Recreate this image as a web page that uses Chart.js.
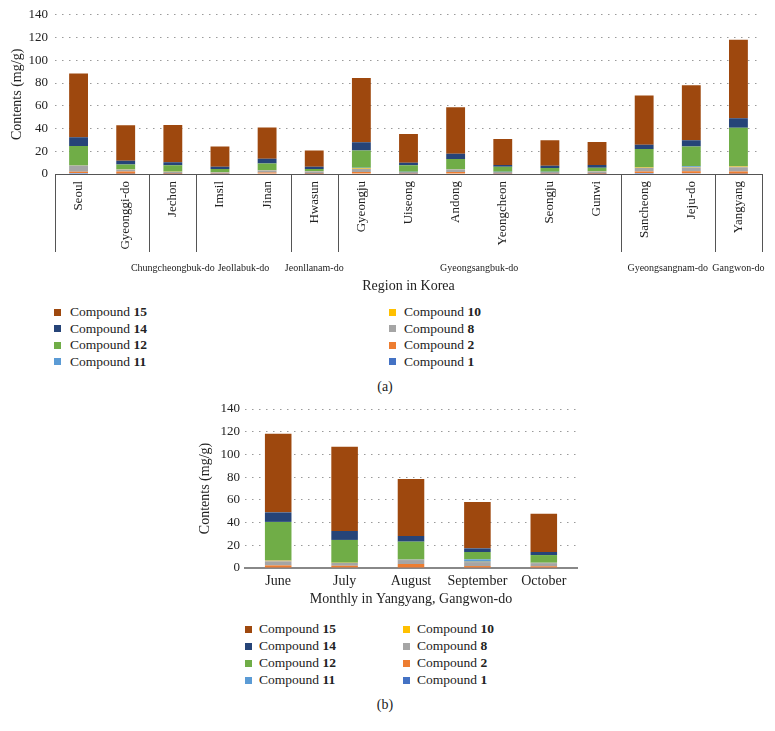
<!DOCTYPE html>
<html>
<head>
<meta charset="utf-8">
<script src="https://cdn.jsdelivr.net/npm/chart.js@4.4.0/dist/chart.umd.min.js"></script>
<style>
    body { margin: 0; background: #fff; width: 775px; height: 731px; position: relative; overflow: hidden;
           font-family: 'Liberation Serif', serif; color: #222; }
    canvas { position: absolute; }
    .leg { position: absolute; font-size: 13.5px; line-height: 16px; white-space: nowrap; }
    .mark { position: absolute; width: 7px; height: 7px; }
    .cap { position: absolute; width: 40px; text-align: center; font-size: 14px; line-height: 16px; }
</style>
</head>
<body>
<canvas id="chartA" width="775" height="296" style="left:0;top:0"></canvas>
<canvas id="chartB" width="410" height="215" style="left:180px;top:395px"></canvas>
<div id="legends"></div>
<div class="cap" style="left:365px;top:379px">(a)</div>
<div class="cap" style="left:365px;top:697px">(b)</div>
<script>
// (a) regions in Korea
const regions = ['Seoul', 'Gyeonggi-do', 'Jechon', 'Imsil', 'Jinan', 'Hwasun', 'Gyeongju', 'Uiseong',
    'Andong', 'Yeongcheon', 'Seongju', 'Gunwi', 'Sancheong', 'Jeju-do', 'Yangyang']
const regionGroups = ['', 'Chungcheongbuk-do', 'Jeollabuk-do', 'Jeonllanam-do', 'Gyeongsangbuk-do',
    'Gyeongsangnam-do', 'Gangwon-do']
const regionGroupSizes = [2, 1, 2, 1, 6, 2, 1]

const compounds = ['1', '2', '8', '10', '11', '12', '14', '15']
const compoundColors = ['#4472C4', '#ED7D31', '#A5A5A5', '#FFC000', '#5B9BD5', '#70AD47', '#264478', '#9E480E']
const legendOrder = ['15', '14', '12', '11', '10', '8', '2', '1']

const regionC1 = [0.8, 0.3, 0.2, 0.2, 0.5, 0.3, 0.5, 0.2, 0.4, 0.2, 0.2, 0.2, 0.8, 0.6, 0.3]
const regionC2 = [1.2, 2.0, 0.6, 0.4, 0.8, 0.5, 1.2, 0.5, 1.3, 0.5, 0.5, 0.6, 1.5, 1.8, 2.0]
const regionC8 = [5.0, 1.5, 0.9, 0.8, 1.8, 1.4, 3.0, 1.0, 2.0, 1.0, 1.0, 1.4, 3.0, 3.4, 3.6]
const regionC10 = [0.3, 0.2, 0.2, 0.1, 0.2, 0.2, 0.5, 0.1, 0.3, 0.1, 0.1, 0.2, 0.4, 0.3, 0.6]
const regionC11 = [0.3, 0.2, 0.2, 0.2, 0.2, 0.2, 0.2, 0.2, 0.3, 0.2, 0.2, 0.2, 0.3, 0.8, 0.4]
const regionC12 = [17.0, 4.2, 5.7, 2.6, 5.7, 1.7, 15.3, 5.8, 8.9, 4.3, 3.2, 2.8, 15.9, 17.3, 33.7]
const regionC14 = [7.7, 3.2, 2.6, 2.0, 4.3, 2.0, 7.2, 2.0, 4.7, 1.7, 2.0, 2.6, 3.8, 5.4, 8.4]
const regionC15 = [56.0, 31.3, 32.8, 17.9, 27.4, 14.4, 56.5, 25.3, 40.9, 22.8, 22.4, 20.2, 43.4, 48.5, 69.1]

// (b) monthly in Yangyang
const months = ['June', 'July', 'August', 'September', 'October']
const monthC1 = [0.3, 0.5, 0.3, 0.3, 0.3]
const monthC2 = [2.0, 1.5, 3.2, 1.4, 1.2]
const monthC8 = [3.6, 2.4, 3.5, 3.5, 2.8]
const monthC10 = [0.6, 0.2, 0.2, 0.3, 0.2]
const monthC11 = [0.4, 0.1, 0.4, 2.1, 0.2]
const monthC12 = [33.7, 20.0, 15.6, 6.5, 6.7]
const monthC14 = [8.4, 7.9, 5.0, 3.2, 2.7]
const monthC15 = [69.1, 74.2, 50.2, 40.8, 33.7]

const yMax = 140
const yStep = 20

const serif = "'Liberation Serif', serif"
const textColor = '#222'

function makeDatasets(rows) {
    return compounds.map((c, i) => ({
        label: 'Compound ' + c,
        data: rows[i],
        backgroundColor: compoundColors[i],
        barPercentage: 0.4,
        categoryPercentage: 1
    }))
}

function yScale(width, titlePad, labelPad) {
    return {
        stacked: true,
        min: 0,
        max: yMax,
        ticks: { stepSize: yStep, padding: labelPad, color: textColor, font: { family: serif, size: 13 } },
        grid: { drawTicks: false, color: '#9a9a9a', lineWidth: 1 },
        border: { display: false, dash: [1.5, 5.5] },
        title: {
            display: true, text: 'Contents (mg/g)', color: textColor,
            font: { family: serif, size: 14 }, padding: { top: titlePad, bottom: 0 }
        },
        afterFit: s => { s.width = width }
    }
}

// separators and province names under the region axis
const groupPlugin = {
    id: 'regionGroups',
    afterDraw(chart) {
        const { ctx, chartArea, scales: { x } } = chart
        const half = (x.getPixelForValue(1) - x.getPixelForValue(0)) / 2
        const y0 = chartArea.bottom
        ctx.save()
        ctx.strokeStyle = '#555'
        ctx.lineWidth = 1
        ctx.fillStyle = textColor
        ctx.font = '10px ' + serif
        ctx.textAlign = 'center'
        ctx.textBaseline = 'middle'
        let idx = 0
        const edges = [x.getPixelForValue(0) - half]
        regionGroups.forEach((name, g) => {
            const start = x.getPixelForValue(idx) - half
            idx += regionGroupSizes[g]
            const end = x.getPixelForValue(idx - 1) + half
            edges.push(end)
            if (name) ctx.fillText(name, (start + end) / 2, y0 + 94)
        })
        edges.forEach(px => {
            const lx = Math.round(px) + 0.5
            ctx.beginPath()
            ctx.moveTo(lx, y0)
            ctx.lineTo(lx, y0 + 78)
            ctx.stroke()
        })
        ctx.restore()
    }
}

new Chart(document.getElementById('chartA'), {
    type: 'bar',
    data: {
        labels: regions,
        datasets: makeDatasets([regionC1, regionC2, regionC8, regionC10, regionC11, regionC12, regionC14, regionC15])
    },
    options: {
        responsive: false,
        animation: false,
        layout: { padding: { top: 12, right: 13, left: 0, bottom: 0 } },
        plugins: { legend: { display: false }, tooltip: { enabled: false } },
        scales: {
            x: {
                stacked: true,
                grid: { display: false, drawTicks: false },
                border: { display: true, color: '#555', width: 1 },
                ticks: {
                    autoSkip: false, minRotation: 90, maxRotation: 90, padding: 7,
                    color: textColor, font: { family: serif, size: 13 }
                },
                title: {
                    display: true, text: 'Region in Korea', color: textColor,
                    font: { family: serif, size: 14 }, padding: { top: 0, bottom: 1 }
                },
                afterFit: s => { s.height = 122 }
            },
            y: yScale(55, 9, 7)
        }
    },
    plugins: [groupPlugin]
})

new Chart(document.getElementById('chartB'), {
    type: 'bar',
    data: {
        labels: months,
        datasets: makeDatasets([monthC1, monthC2, monthC8, monthC10, monthC11, monthC12, monthC14, monthC15])
    },
    options: {
        responsive: false,
        animation: false,
        layout: { padding: { top: 14, right: 13, left: 0, bottom: 0 } },
        plugins: { legend: { display: false }, tooltip: { enabled: false } },
        scales: {
            x: {
                stacked: true,
                grid: { display: false, drawTicks: false },
                border: { display: true, color: '#888', width: 2 },
                ticks: { maxRotation: 0, padding: 5, color: textColor, font: { family: serif, size: 14 } },
                title: {
                    display: true, text: 'Monthly in Yangyang, Gangwon-do', color: textColor,
                    font: { family: serif, size: 14 }, padding: { top: 0, bottom: 2 }
                },
                afterFit: s => { s.height = 42 }
            },
            y: yScale(65, 17, 5)
        }
    }
})

// two-column legends, column-major like the original
function buildLegend(cols, top, step) {
    const box = document.getElementById('legends')
    legendOrder.forEach((c, k) => {
        const col = cols[Math.floor(k / 4)]
        const cy = top + (k % 4) * step
        const mark = document.createElement('div')
        mark.className = 'mark'
        mark.style.left = (col[0] - 3.5) + 'px'
        mark.style.top = (cy - 3.5) + 'px'
        mark.style.background = compoundColors[compounds.indexOf(c)]
        const txt = document.createElement('div')
        txt.className = 'leg'
        txt.style.left = col[1] + 'px'
        txt.style.top = (cy - 8) + 'px'
        txt.innerHTML = 'Compound <b>' + c + '</b>'
        box.appendChild(mark)
        box.appendChild(txt)
    })
}
buildLegend([[57.5, 70], [392.5, 404]], 312, 16.5)
buildLegend([[248, 259], [406, 417]], 629, 17)
</script>
</body>
</html>
